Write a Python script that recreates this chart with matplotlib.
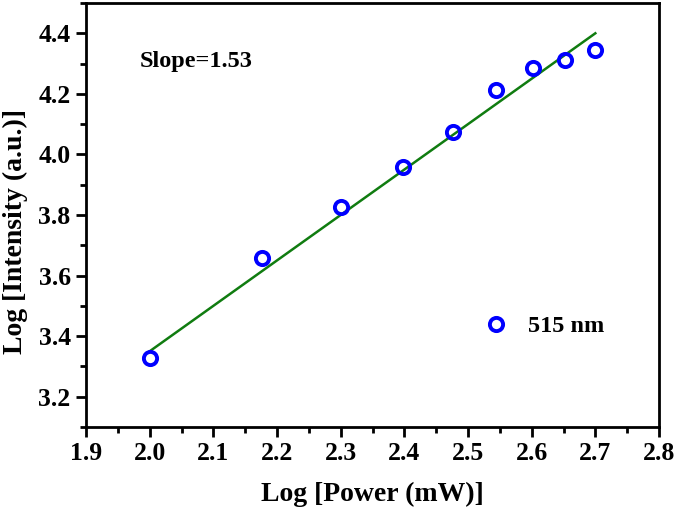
import matplotlib
matplotlib.use("Agg")
import matplotlib.pyplot as plt
from matplotlib.ticker import MultipleLocator

log_power = [2.0, 2.176, 2.301, 2.398, 2.477, 2.544, 2.602, 2.653, 2.699]
log_intensity = [3.329, 3.657, 3.827, 3.958, 4.075, 4.213, 4.287, 4.312, 4.344]
fit_x = [2.0, 2.7]
fit_y = [3.35, 4.40]
series_label = "515 nm"
slope_text = "Slope=1.53"

plt.rcParams['font.family'] = ['Liberation Serif', 'DejaVu Serif']
plt.rcParams['font.weight'] = 'bold'

fig = plt.figure(figsize=(6.75, 5.11), dpi=100)
ax = fig.add_axes([86/675, (511-427)/511, (659-86)/675, (427-3)/511])

ax.plot(fit_x, fit_y, color='#107c10', lw=1.8, zorder=2)
ax.plot(log_power, log_intensity, 'o', ms=9.5, mfc='none', mec='#0000ff', mew=2.8,
        label=series_label, zorder=3)

ax.set_xlim(1.9, 2.8)
ax.set_ylim(3.1, 4.5)
ax.xaxis.set_minor_locator(MultipleLocator(0.05))
ax.yaxis.set_minor_locator(MultipleLocator(0.1))
ax.set_yticks([3.2, 3.4, 3.6, 3.8, 4.0, 4.2, 4.4])
ax.set_xticks([1.9, 2.0, 2.1, 2.2, 2.3, 2.4, 2.5, 2.6, 2.7, 2.8])
ax.set_xticklabels([f"{v:.1f}" for v in ax.get_xticks()])
ax.set_yticklabels([f"{v:.1f}" for v in ax.get_yticks()])

for s in ax.spines.values():
    s.set_linewidth(2.0)
ax.tick_params(which='major', direction='out', length=7, width=2, labelsize=18.5, pad=4)
ax.tick_params(which='minor', direction='out', length=4, width=2)
for lab in ax.get_xticklabels() + ax.get_yticklabels():
    lab.set_fontweight('bold')

ax.set_xlabel("Log [Power (mW)]", fontsize=20, fontweight='bold', labelpad=12)
ax.set_ylabel("Log [Intensity (a.u.)]", fontsize=20, fontweight='bold')
ax.yaxis.set_label_coords(-0.102, 0.462)

ax.text(0.094, 0.861, slope_text, transform=ax.transAxes, fontsize=17.5,
        fontweight='bold', va='center', ha='left')

ax.legend(loc='center left', bbox_to_anchor=(0.695, 0.238), frameon=False,
          prop={'size': 17.5, 'weight': 'bold'}, handletextpad=0.8, handlelength=1.0,
          borderaxespad=0, borderpad=0)

fig.savefig("out.png", dpi=100)
